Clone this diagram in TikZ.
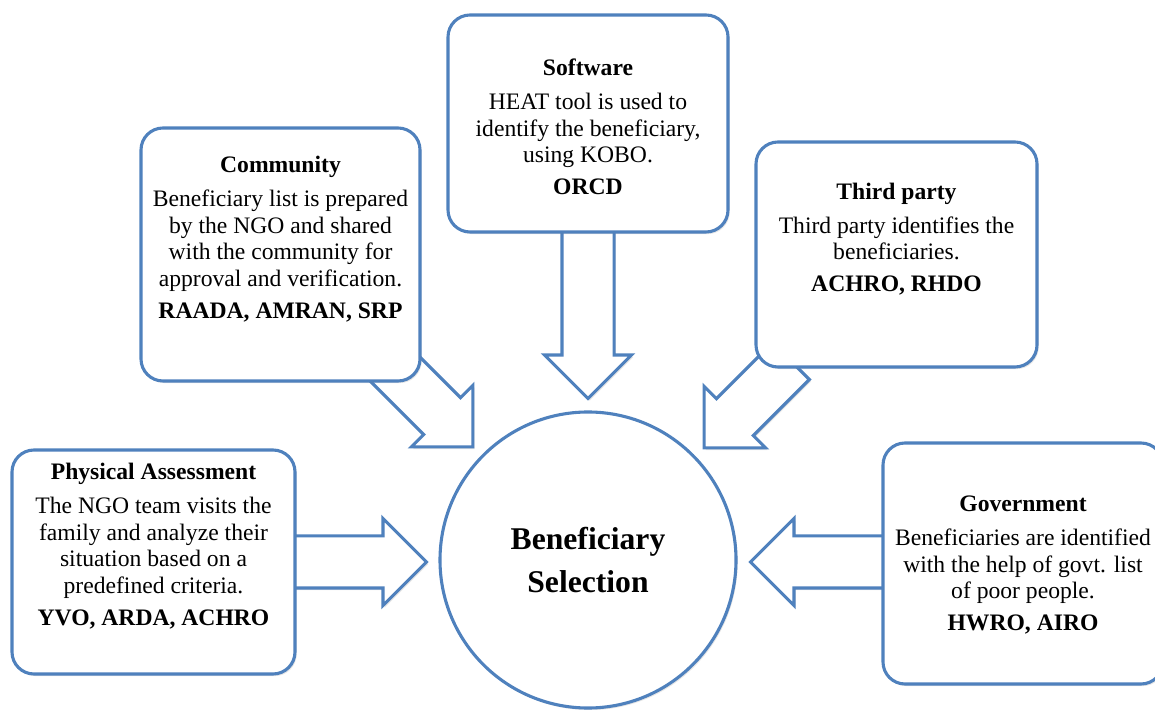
\documentclass[tikz,border=0pt]{standalone}
\usepackage{fontspec}
\setmainfont{Liberation Serif}
\usetikzlibrary{shapes.arrows,calc,shadows}
\definecolor{bblue}{HTML}{4F81BD}

\tikzset{
  card/.style={draw=bblue, line width=2.2pt, fill=white, rounded corners=0.55cm,
    drop shadow={shadow xshift=1.2pt, shadow yshift=-1.5pt, opacity=0.2}},
  cardtext/.style={align=center, font=\fontsize{16.8}{18.8}\selectfont},
  barrow/.style={single arrow, draw=bblue, line width=2.2pt, fill=white,
    single arrow head extend=0.4375cm, single arrow tip angle=90,
    inner xsep=0pt, inner ysep=0.6125cm, minimum width=0pt, anchor=tail,
    drop shadow={shadow xshift=1.2pt, shadow yshift=-1.5pt, opacity=0.2}}
}

% block arrow from #1 (tail) to #2 (tip)
\newcommand\blockarrow[2]{%
  \path let \p1=($(#2)-(#1)$), \n1={atan2(\y1,\x1)}, \n2={veclen(\x1,\y1)} in
    node[barrow, minimum height=\n2, rotate=\n1] at (#1) {};}

\begin{document}
\begin{tikzpicture}
  \useasboundingbox (0,0) rectangle (28.875,17.725);

  % arrows (tails hidden below the boxes)
  \coordinate (swtail) at (14.7,12.2);     \coordinate (swtip) at (14.7,7.8);
  \coordinate (commtail) at (9.625,8.75);  \coordinate (commtip) at (11.8,6.575);
  \coordinate (thirdtail) at (19.8,8.725); \coordinate (thirdtip) at (17.625,6.55);
  \coordinate (phystail) at (6.25,3.675);  \coordinate (phystip) at (10.625,3.675);
  \coordinate (govtail) at (23.25,3.675);  \coordinate (govtip) at (18.8,3.675);
  \blockarrow{swtail}{swtip}
  \blockarrow{commtail}{commtip}
  \blockarrow{thirdtail}{thirdtip}
  \blockarrow{phystail}{phystip}
  \blockarrow{govtail}{govtip}

  % centre
  \node[circle, draw=bblue, line width=2.2pt, fill=white, minimum size=7.4cm,
    align=center, font=\fontsize{22.5}{30.6}\selectfont\bfseries,
    drop shadow={shadow xshift=1.2pt, shadow yshift=-1.5pt, opacity=0.2}]
    (sel) at (14.7,3.725) {Beneficiary\\Selection};

  % boxes
  \node[card, minimum width=7cm, minimum height=5.425cm] (sw) at (14.7,14.6375) {};
  \node[cardtext] (swtext) at (14.7,14.55)
    {\textbf{Software}\\[5.5pt] HEAT tool is used to\\ identify the beneficiary,\\ using KOBO.\\[4pt] \textbf{ORCD}};

  \node[card, minimum width=6.975cm, minimum height=6.325cm] (comm) at (7.0125,11.3625) {};
  \node[cardtext] (commtext) at (7.0125,11.75)
    {\textbf{Community}\\[5.5pt] Beneficiary list is prepared\\ by the NGO and shared\\ with the community for\\ approval and verification.\\[4pt] \textbf{RAADA, AMRAN, SRP}};

  \node[card, minimum width=7.025cm, minimum height=5.625cm] (third) at (22.4125,11.3625) {};
  \node[cardtext] (thirdtext) at (22.4125,11.75)
    {\textbf{Third party}\\[5.5pt] Third party identifies the\\ beneficiaries.\\[4pt] \textbf{ACHRO, RHDO}};

  \node[card, minimum width=7.075cm, minimum height=5.6cm] (phys) at (3.8375,3.675) {};
  \node[cardtext] (phystext) at (3.8375,4.07)
    {\textbf{Physical Assessment}\\[5.5pt] The NGO team visits the\\ family and analyze their\\ situation based on a\\ predefined criteria.\\[4pt] \textbf{YVO, ARDA, ACHRO}};

  \node[card, minimum width=7cm, minimum height=6.025cm] (gov) at (25.575,3.6375) {};
  \node[cardtext] (govtext) at (25.575,3.6)
    {\textbf{Government}\\[5.5pt] Beneficiaries are identified\\ with the help of govt. list\\ of poor people.\\[4pt] \textbf{HWRO, AIRO}};
\end{tikzpicture}
\end{document}
